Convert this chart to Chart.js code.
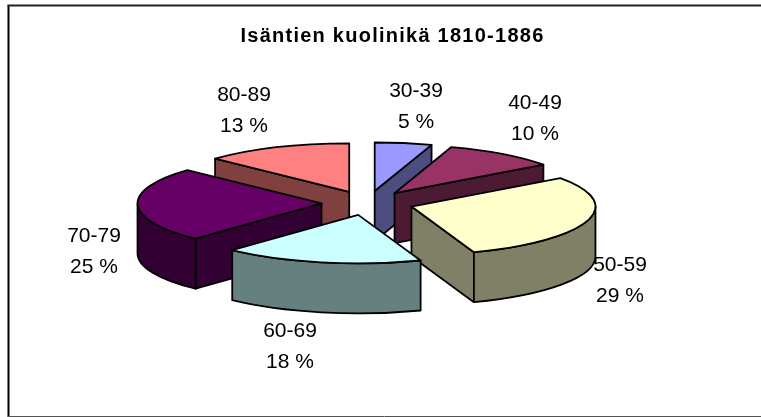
<!DOCTYPE html>
<html>
<head>
<meta charset="utf-8">
<style>html,body{margin:0;padding:0;background:#fff}canvas{display:block}</style>
<script src="https://cdn.jsdelivr.net/npm/chart.js@4/dist/chart.umd.min.js"></script>
</head>
<body>
<canvas id="c" width="761" height="417"></canvas>
<script>
const titleText = 'Isäntien kuolinikä 1810-1886';
const categories = ['30-39','40-49','50-59','60-69','70-79','80-89'];
const values = [5, 10, 29.49, 17.51, 25, 13];
const percentLabels = ['5 %','10 %','29 %','18 %','25 %','13 %'];
const topColors = ['#9999FF','#993366','#FFFFCC','#CCFFFF','#660066','#FF8080'];
const sideColors = ['#4D4D80','#4D1A33','#808066','#668080','#330033','#804040'];

const view = {cx:367.5, cy:203, rx:184, ry:48.5, depth:50, explode:46};
const paintOrder = [0,1,5,4,2,3];
const labelPos = [[416,91],[535,103],[620,265],[290,331],[94,236],[244,95]];
const labelGap = 31;

function outline(ctx, fill){
  ctx.fillStyle = fill;
  ctx.fill();
  ctx.stroke();
}
function line(ctx, x0, y0, x1, y1, width, color){
  ctx.beginPath();
  ctx.moveTo(x0,y0); ctx.lineTo(x1,y1);
  ctx.lineWidth = width; ctx.strokeStyle = color;
  ctx.stroke();
}
const pie3d = {
  id:'pie3d',
  beforeDraw(chart){
    const ctx = chart.ctx;
    ctx.save();
    line(ctx,8.5,5,8.5,417,2,'#000');
    line(ctx,7.5,5.5,761,5.5,2,'#222');
    line(ctx,8,416.5,761,416.5,1,'#555');
    ctx.restore();
    ctx.letterSpacing = '1.25px';
  },
  beforeDatasetsDraw(chart){
    const ctx = chart.ctx, meta = chart.getDatasetMeta(0);
    const {cx,cy,rx,ry,depth} = view;
    const k = ry/rx;
    ctx.letterSpacing = '0px';
    ctx.save();
    ctx.lineWidth = 1.8;
    ctx.strokeStyle = '#000';
    ctx.lineJoin = 'round';
    paintOrder.forEach(i=>{
      const arc = meta.data[i];
      const a0 = arc.startAngle, a1 = arc.endAngle;
      const mid = (a0+a1)/2, off = arc.options.offset;
      const x = cx + off*Math.cos(mid), y = cy + off*k*Math.sin(mid);
      const px = a=>x+rx*Math.cos(a), py = a=>y+ry*Math.sin(a);
      // radial side walls that face the viewer
      const wall = a=>{
        ctx.beginPath();
        ctx.moveTo(x,y); ctx.lineTo(px(a),py(a));
        ctx.lineTo(px(a),py(a)+depth); ctx.lineTo(x,y+depth); ctx.closePath();
        outline(ctx, sideColors[i]);
      };
      if(Math.cos(a0)<-1e-6) wall(a0);
      if(Math.cos(a1)>1e-6) wall(a1);
      // curved outer wall (front half of the rim only)
      const s = Math.max(a0,0), e = Math.min(a1,Math.PI);
      if(e>s){
        ctx.beginPath();
        ctx.ellipse(x,y,rx,ry,0,s,e);
        ctx.ellipse(x,y+depth,rx,ry,0,e,s,true);
        ctx.closePath();
        outline(ctx, sideColors[i]);
      }
      // top face
      ctx.beginPath();
      ctx.moveTo(x,y);
      ctx.ellipse(x,y,rx,ry,0,a0,a1);
      ctx.closePath();
      outline(ctx, arc.options.backgroundColor);
    });
    ctx.restore();
    return false;
  },
  afterDraw(chart){
    const ctx = chart.ctx;
    ctx.save();
    ctx.fillStyle = '#000';
    ctx.font = '21px "Liberation Sans", Arial, sans-serif';
    ctx.textAlign = 'center';
    ctx.textBaseline = 'middle';
    categories.forEach((c,i)=>{
      const [x,y] = labelPos[i];
      ctx.fillText(c,x,y);
      ctx.fillText(percentLabels[i],x,y+labelGap);
    });
    ctx.restore();
  }
};

new Chart(document.getElementById('c'),{
  type:'pie',
  data:{labels:categories,datasets:[{data:values,backgroundColor:topColors,offset:view.explode,borderWidth:0}]},
  options:{
    responsive:false,
    animation:false,
    layout:{padding:{left:24,right:0,top:0,bottom:0}},
    plugins:{
      legend:{display:false},
      tooltip:{enabled:false},
      title:{display:true,text:titleText,fullSize:false,color:'#000',
        font:{family:'"Liberation Sans", Arial, sans-serif',size:20,weight:'bold'},
        padding:{top:24,bottom:10}}
    }
  },
  plugins:[pie3d]
});
</script>
</body>
</html>
